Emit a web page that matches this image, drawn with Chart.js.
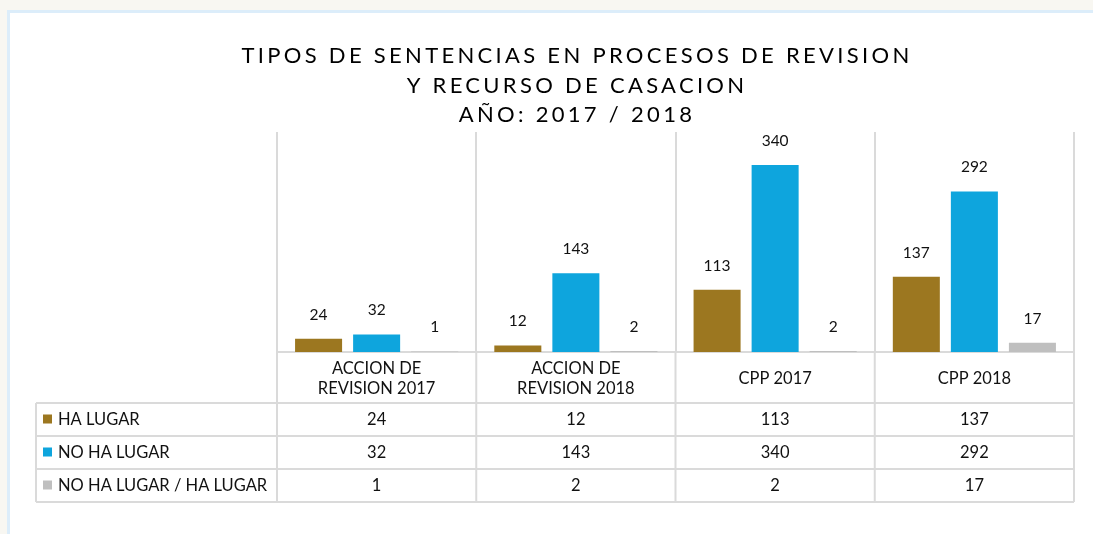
<!DOCTYPE html>
<html>
<head>
<meta charset="utf-8">
<script src="https://cdn.jsdelivr.net/npm/chart.js@4.4.1/dist/chart.umd.min.js"></script>
<style>
  html, body { margin: 0; padding: 0; width: 1093px; height: 534px; overflow: hidden; background: #f8f7f2; }
  .card { position: absolute; left: 7px; top: 10px; width: 1120px; height: 560px; background: #fff; border: 3px solid #dcedfa; box-sizing: border-box; }
  canvas { position: absolute; left: 0; top: 0; }
</style>
</head>
<body>
<div class="card"></div>
<canvas id="chart" width="1093" height="534"></canvas>
<script>
// data
const titleLines = ['TIPOS DE SENTENCIAS EN PROCESOS DE REVISION', 'Y RECURSO DE CASACION', 'AÑO: 2017 / 2018'];
const categories = [['ACCION DE', 'REVISION 2017'], ['ACCION DE', 'REVISION 2018'], 'CPP 2017', 'CPP 2018'];
const seriesNames = ['HA LUGAR', 'NO HA LUGAR', 'NO HA LUGAR / HA LUGAR'];
const haLugar = [24, 12, 113, 137];
const noHaLugar = [32, 143, 340, 292];
const noHaLugarHaLugar = [1, 2, 2, 17];
const seriesColors = ['#9C7720', '#0EA5DD', '#BFBFBF'];

const FONT = 'Lato, "Open Sans", sans-serif';
const LINE = '#dadada';

// title with wide letter spacing
const titlePlugin = {
    id: 'spacedTitle',
    afterDraw(chart) {
        const ctx = chart.ctx;
        ctx.save();
        ctx.font = `400 22px ${FONT}`;
        ctx.letterSpacing = '3.3px';
        ctx.fillStyle = '#000';
        ctx.textAlign = 'center';
        ctx.textBaseline = 'middle';
        titleLines.forEach((t, i) => ctx.fillText(t, 577, 56 + i * 29.5));
        ctx.restore();
    }
};

// numbers above bars
const valueLabels = {
    id: 'valueLabels',
    afterDatasetsDraw(chart) {
        const ctx = chart.ctx;
        ctx.save();
        ctx.font = `400 15.5px ${FONT}`;
        ctx.fillStyle = '#111';
        ctx.textAlign = 'center';
        ctx.textBaseline = 'middle';
        chart.data.datasets.forEach((ds, i) => {
            chart.getDatasetMeta(i).data.forEach((bar, j) => {
                ctx.fillText(ds.data[j], bar.x, bar.y - 24);
            });
        });
        ctx.restore();
    }
};

// data table under the axis
const dataTable = {
    id: 'dataTable',
    afterDraw(chart) {
        const ctx = chart.ctx;
        const x = chart.scales.x;
        const area = chart.chartArea;
        const rowH = 33;
        const top = area.bottom + 51;
        const bottom = top + rowH * chart.data.datasets.length;
        const tableLeft = 36;
        const colW = (area.right - area.left) / categories.length;

        ctx.save();
        ctx.strokeStyle = LINE;
        ctx.lineWidth = 2;
        ctx.beginPath();
        for (let r = 0; r <= chart.data.datasets.length; r++) {
            ctx.moveTo(tableLeft, top + r * rowH);
            ctx.lineTo(area.right, top + r * rowH);
        }
        ctx.moveTo(tableLeft, top);
        ctx.lineTo(tableLeft, bottom);
        for (let c = 0; c <= categories.length; c++) {
            const px = area.left + c * colW;
            ctx.moveTo(px, area.bottom);
            ctx.lineTo(px, bottom);
        }
        ctx.stroke();

        ctx.font = `400 16.5px ${FONT}`;
        ctx.textBaseline = 'middle';
        chart.data.datasets.forEach((ds, r) => {
            const cy = top + r * rowH + rowH / 2;
            ctx.fillStyle = ds.backgroundColor;
            ctx.fillRect(tableLeft + 7, cy - 5, 9, 9);
            ctx.fillStyle = '#111';
            ctx.textAlign = 'left';
            ctx.fillText(ds.label, tableLeft + 22, cy);
            ctx.textAlign = 'center';
            ds.data.forEach((v, j) => ctx.fillText(v, x.getPixelForValue(j), cy));
        });
        ctx.restore();
    }
};

new Chart(document.getElementById('chart'), {
    type: 'bar',
    data: {
        labels: categories,
        datasets: [
            { label: seriesNames[0], data: haLugar, backgroundColor: seriesColors[0] },
            { label: seriesNames[1], data: noHaLugar, backgroundColor: seriesColors[1] },
            { label: seriesNames[2], data: noHaLugarHaLugar, backgroundColor: seriesColors[2] }
        ]
    },
    options: {
        responsive: false,
        animation: false,
        categoryPercentage: 0.874,
        barPercentage: 0.81,
        layout: { padding: { left: 277, right: 19, top: 132, bottom: 0 } },
        scales: {
            x: {
                grid: { offset: true, color: LINE, lineWidth: 2, drawTicks: false },
                border: { display: true, color: LINE, width: 2 },
                ticks: {
                    color: '#111',
                    font: { family: FONT, size: 16.5 },
                    padding: 17,
                    crossAlign: 'center',
                    maxRotation: 0,
                    autoSkip: false
                },
                afterFit(scale) { scale.height = 182; }
            },
            y: { display: false, min: 0, max: 400 }
        },
        plugins: {
            legend: { display: false },
            tooltip: { enabled: false },
            title: { display: false }
        }
    },
    plugins: [titlePlugin, valueLabels, dataTable]
});
</script>
</body>
</html>
